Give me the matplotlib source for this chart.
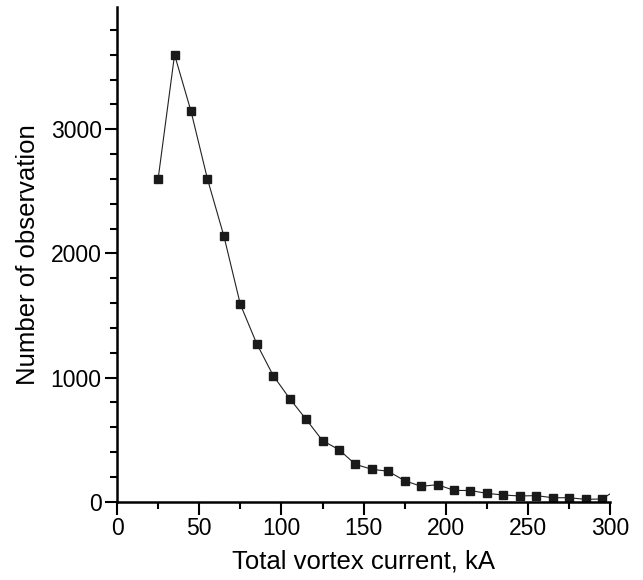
import matplotlib
import numpy as np

matplotlib.use("Agg")
import matplotlib.pyplot as plt
from matplotlib.ticker import MultipleLocator

# vortex current bins (kA) and counts
current_ka = [25, 35, 45, 55, 65, 75, 85, 95, 105, 115, 125, 135, 145, 155,
              165, 175, 185, 195, 205, 215, 225, 235, 245, 255, 265, 275, 285, 295, 305]
observations = [2600, 3600, 3145, 2600, 2140, 1590, 1272, 1016, 831, 664, 492, 419, 301, 261,
                245, 169, 124, 137, 91, 90, 67, 54, 46, 49, 32, 32, 19, 22, 106]

plt.rcParams["font.family"] = ["Liberation Sans", "DejaVu Sans"]

fig = plt.figure(figsize=(6.43, 5.8), dpi=100)
ax = fig.add_axes([0.182, 0.135, 0.767, 0.853])

ax.plot(current_ka, observations, color="#222222", lw=0.8,
        marker="s", ms=6.2, mfc="#1a1a1a", mec="#1a1a1a",
        markevery=list(range(len(current_ka) - 1)))

ax.set_xlim(0, 300)
ax.set_ylim(0, 3985)
ax.xaxis.set_major_locator(MultipleLocator(50))
ax.xaxis.set_minor_locator(MultipleLocator(25))
ax.set_yticks([0, 1000, 2000, 3000])
ax.yaxis.set_minor_locator(MultipleLocator(200))

for side in ("top", "right"):
    ax.spines[side].set_visible(False)
for side in ("left", "bottom"):
    ax.spines[side].set_linewidth(1.8)

ax.tick_params(which="major", direction="out", length=9, width=1.5, labelsize=16.5, pad=2)
ax.tick_params(which="minor", direction="out", length=5, width=1.5)

ax.set_xlabel("Total vortex current, kA", fontsize=18.5, labelpad=7)
ax.set_ylabel("Number of observation", fontsize=18.5, labelpad=8)

fig.savefig("out.png", dpi=100)
